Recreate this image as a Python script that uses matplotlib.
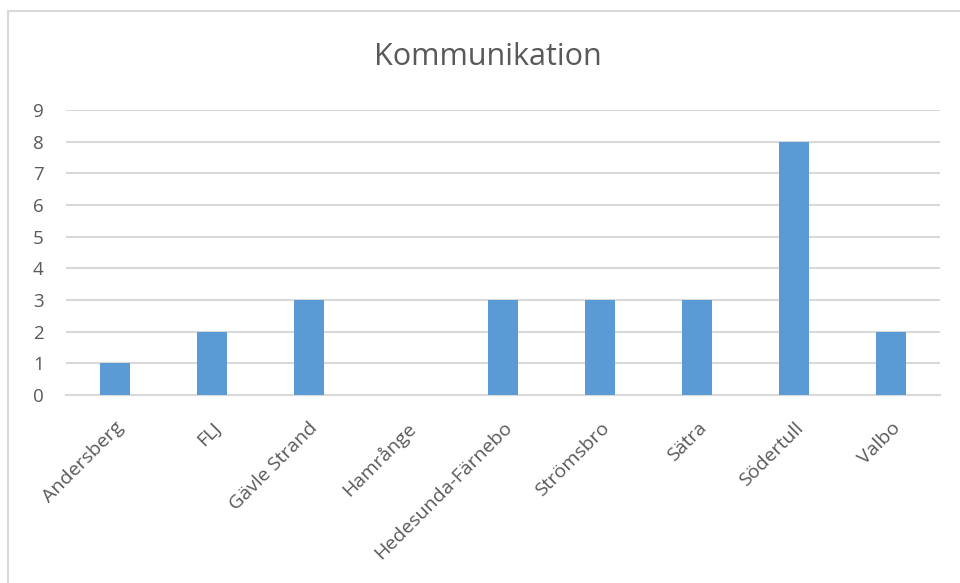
import matplotlib
matplotlib.use("Agg")
import matplotlib.pyplot as plt
from matplotlib.patches import Rectangle

categories = ["Andersberg", "FLJ", "Gävle Strand", "Hamrånge", "Hedesunda-Färnebo",
              "Strömsbro", "Sätra", "Södertull", "Valbo"]
values = [1, 2, 3, 0, 3, 3, 3, 8, 2]
yticks = list(range(0, 10))

plt.rcParams['font.family'] = ['Open Sans', 'DejaVu Sans']

W, H = 960, 583
fig = plt.figure(figsize=(W/100, H/100), dpi=100)
ax = fig.add_axes([66/W, 1-395/H, (940-66)/W, (395-110)/H])

x = list(range(len(categories)))
ax.bar(x, values, width=0.31, color="#5B9BD5", zorder=3)
ax.set_xlim(-0.5, len(categories)-0.5)
ax.set_ylim(0, 9)
ax.set_yticks(yticks)
ax.set_yticklabels([str(v) for v in yticks], color="#595959", fontsize=13.5)
ax.set_xticks(x)
ax.set_xticklabels(categories, rotation=45, ha="right", rotation_mode="anchor",
                   color="#595959", fontsize=14)
ax.tick_params(axis="both", length=0)
ax.tick_params(axis="y", pad=16)
ax.tick_params(axis="x", pad=17)
ax.yaxis.grid(True, color="#D9D9D9", linewidth=1.5, zorder=0)
for s in ["top", "right", "left"]:
    ax.spines[s].set_visible(False)
ax.spines["bottom"].set_color("#D9D9D9")
ax.spines["bottom"].set_linewidth(1.5)

fig.text(488/W, 1-57/H, "Kommunikation", ha="center", va="center",
         fontsize=22, color="#595959")

fig.patches.append(Rectangle((8/W, -0.1), 1.2, 1 - 11/H + 0.1,
                             transform=fig.transFigure, fill=False,
                             edgecolor="#D9D9D9", linewidth=1.5, clip_on=False))

fig.savefig("out.png", dpi=100)
